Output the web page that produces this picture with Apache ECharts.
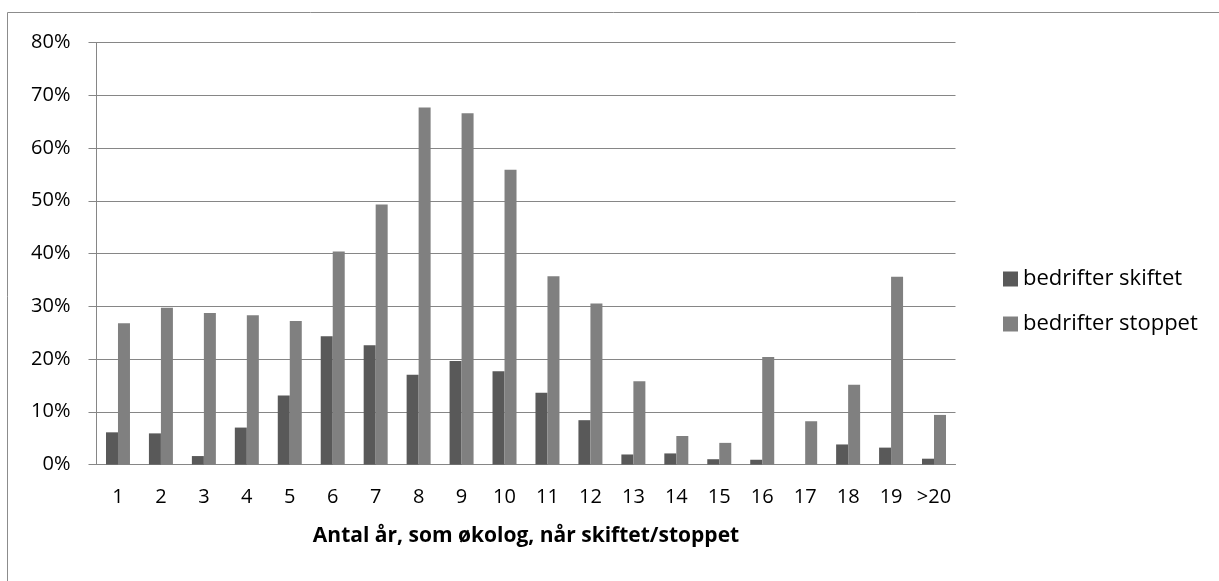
<!DOCTYPE html>
<html>
<head>
<meta charset="utf-8">
<script src="https://cdn.jsdelivr.net/npm/echarts@6/dist/echarts.min.js"></script>
<style>
  html, body { margin: 0; padding: 0; background: #fff; }
  #chart { width: 1219px; height: 581px; }
</style>
</head>
<body>
<div id="chart"></div>
<script>
// kategorier (antal år)
var years = ['1', '2', '3', '4', '5', '6', '7', '8', '9', '10', '11', '12', '13', '14', '15', '16', '17', '18', '19', '>20'];
// andel i procent
var skiftet = [6.1, 5.9, 1.6, 7.0, 13.1, 24.3, 22.6, 17.0, 19.6, 17.7, 13.6, 8.4, 1.9, 2.1, 1.0, 0.9, 0, 3.8, 3.2, 1.1];
var stoppet = [26.8, 29.7, 28.7, 28.3, 27.2, 40.4, 49.3, 67.7, 66.6, 55.9, 35.7, 30.5, 15.8, 5.4, 4.1, 20.4, 8.2, 15.1, 35.6, 9.4];
var yTicks = [0, 10, 20, 30, 40, 50, 60, 70, 80];

var myChart = echarts.init(document.getElementById('chart'));
var font = '"Open Sans", Lato, sans-serif';

var option = {
  animation: false,
  backgroundColor: '#fff',
  // ramme om diagrammet
  graphic: [
    { type: 'line', shape: { x1: 7.5, y1: 12.5, x2: 1219, y2: 12.5 }, style: { stroke: '#8c8c8c', lineWidth: 1 } },
    { type: 'line', shape: { x1: 7.5, y1: 12.5, x2: 7.5, y2: 581 }, style: { stroke: '#8c8c8c', lineWidth: 1 } }
  ],
  legend: {
    orient: 'vertical',
    left: 998,
    top: 263,
    itemWidth: 15,
    itemHeight: 15,
    itemGap: 23,
    icon: 'rect',
    textStyle: { fontFamily: font, fontSize: 22, color: '#000' },
    data: ['bedrifter skiftet', 'bedrifter stoppet']
  },
  grid: { left: 96.5, top: 42.5, right: 263.5, bottom: 116.5 },
  xAxis: {
    type: 'category',
    data: years,
    name: 'Antal år, som økolog, når skiftet/stoppet',
    nameLocation: 'middle',
    nameGap: 61,
    nameTextStyle: { fontFamily: font, fontSize: 21, fontWeight: 'bold', color: '#000' },
    axisLine: { lineStyle: { color: '#868686', width: 1 } },
    axisTick: { length: 8, lineStyle: { color: '#868686' } },
    axisLabel: { interval: 0, fontFamily: font, fontSize: 20, color: '#000', margin: 23 }
  },
  yAxis: {
    type: 'value',
    min: yTicks[0],
    max: yTicks[yTicks.length - 1],
    interval: 10,
    axisLine: { show: true, lineStyle: { color: '#868686', width: 1 } },
    axisTick: { show: true, length: 8, lineStyle: { color: '#868686' } },
    axisLabel: { fontFamily: font, fontSize: 20, color: '#000', margin: 26, formatter: '{value}%' },
    splitLine: { lineStyle: { color: '#868686', width: 1 } }
  },
  series: [
    {
      name: 'bedrifter skiftet',
      type: 'bar',
      data: skiftet,
      barWidth: 12,
      barGap: '0%',
      itemStyle: { color: '#595959' }
    },
    {
      name: 'bedrifter stoppet',
      type: 'bar',
      data: stoppet,
      barWidth: 12,
      barGap: '0%',
      itemStyle: { color: '#808080' }
    }
  ]
};

option && myChart.setOption(option);
</script>
</body>
</html>
